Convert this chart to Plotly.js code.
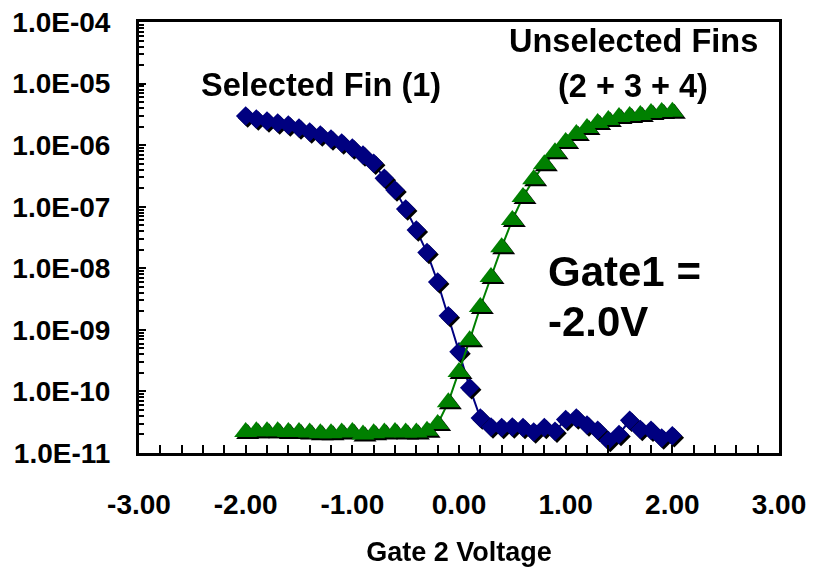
<!DOCTYPE html>
<html>
<head>
<meta charset="utf-8">
<script src="https://cdn.plot.ly/plotly-3.0.1.min.js"></script>
<style>
  html, body { margin: 0; padding: 0; background: #fff; }
  #chart { width: 814px; height: 571px; }
  /* Excel-like drop shadow under the markers */
  #chart .scatterlayer .points { filter: drop-shadow(2px 2px 0 #000); }
</style>
</head>
<body>
<div id="chart"></div>
<script>
// Gate 2 sweep, 0.1 V steps
const gate2Voltage = [
  -2.0, -1.9, -1.8, -1.7, -1.6, -1.5, -1.4, -1.3, -1.2, -1.1,
  -1.0, -0.9, -0.8, -0.7, -0.6, -0.5, -0.4, -0.3, -0.2, -0.1,
   0.0,  0.1,  0.2,  0.3,  0.4,  0.5,  0.6,  0.7,  0.8,  0.9,
   1.0,  1.1,  1.2,  1.3,  1.4,  1.5,  1.6,  1.7,  1.8,  1.9, 2.0
];

// Current through the selected fin (1)
const selectedFin = [
  2.97e-6, 2.66e-6, 2.47e-6, 2.29e-6, 2.12e-6, 1.90e-6, 1.64e-6, 1.46e-6, 1.26e-6, 1.08e-6,
  9.0e-7, 6.9e-7, 5.1e-7, 2.9e-7, 1.87e-7, 9.2e-8, 4.2e-8, 1.8e-8, 6.0e-9, 1.7e-9,
  4.4e-10, 1.15e-10, 3.7e-11, 2.65e-11, 2.6e-11, 2.65e-11, 2.6e-11, 2.2e-11, 2.6e-11, 2.25e-11,
  3.5e-11, 3.7e-11, 2.85e-11, 2.35e-11, 1.6e-11, 2.0e-11, 3.4e-11, 2.4e-11, 2.35e-11, 1.75e-11, 1.9e-11
];

// Current through the unselected fins (2 + 3 + 4)
const unselectedFins = [
  2.2e-11, 2.25e-11, 2.25e-11, 2.25e-11, 2.2e-11, 2.2e-11, 2.15e-11, 2.1e-11, 2.1e-11, 2.15e-11,
  2.2e-11, 2.0e-11, 2.1e-11, 2.15e-11, 2.2e-11, 2.15e-11, 2.15e-11, 2.3e-11, 2.96e-11, 6.7e-11,
  2.07e-10, 6.8e-10, 2.35e-9, 7.2e-9, 2.2e-8, 6.1e-8, 1.44e-7, 2.8e-7, 4.9e-7, 7.7e-7,
  1.12e-6, 1.52e-6, 1.9e-6, 2.29e-6, 2.56e-6, 2.86e-6, 2.97e-6, 3.09e-6, 3.33e-6, 3.45e-6, 3.5e-6
];

// Axis ticks
const yTickVals = [1e-11, 1e-10, 1e-9, 1e-8, 1e-7, 1e-6, 1e-5, 1e-4];
const yTickText = ["1.0E-11", "1.0E-10", "1.0E-09", "1.0E-08", "1.0E-07", "1.0E-06", "1.0E-05", "1.0E-04"];
const xTickVals = [-3, -2, -1, 0, 1, 2, 3];
const xTickText = ["-3.00", "-2.00", "-1.00", "0.00", "1.00", "2.00", "3.00"];

// minor log ticks 2..9 in every decade
const yMinorVals = [];
for (let e = -11; e < -4; e++) {
  for (let m = 2; m <= 9; m++) yMinorVals.push(m * Math.pow(10, e));
}

const FONT = "Liberation Sans, Arial, Helvetica, sans-serif";

const traces = [
  {
    x: gate2Voltage, y: selectedFin,
    type: "scatter", mode: "lines+markers",
    line: { color: "#000080", width: 2 },
    marker: { symbol: "diamond", size: 15, color: "#000080" },
    showlegend: false, hoverinfo: "x+y"
  },
  {
    x: gate2Voltage, y: unselectedFins,
    type: "scatter", mode: "lines+markers",
    line: { color: "#008000", width: 2 },
    marker: { symbol: "triangle-up", size: 20, color: "#008000" },
    showlegend: false, hoverinfo: "x+y"
  }
];

const layout = {
  width: 814, height: 571,
  margin: { l: 139, r: 35, t: 22, b: 118, pad: 0 },
  paper_bgcolor: "#ffffff", plot_bgcolor: "#ffffff",
  font: { family: FONT, color: "#000", size: 28, weight: "bold" },
  xaxis: {
    range: [-3, 3], autorange: false,
    tickmode: "array", tickvals: xTickVals, ticktext: xTickText,
    ticks: "inside", ticklen: 8, tickwidth: 2, tickcolor: "#000",
    minor: { dtick: 0.2, tick0: 0, ticks: "inside", ticklen: 8, tickwidth: 2, tickcolor: "#000", showgrid: false },
    showline: true, linecolor: "#000", linewidth: 3, mirror: true,
    showgrid: false, zeroline: false,
    tickfont: { family: FONT, size: 28, weight: "bold", color: "#000" },
    ticklabelstandoff: 24,
    title: { text: "Gate 2 Voltage", font: { family: FONT, size: 27, weight: "bold", color: "#000" }, standoff: 24 }
  },
  yaxis: {
    type: "log", range: [-11, -4], autorange: false,
    tickmode: "array", tickvals: yTickVals, ticktext: yTickText,
    ticks: "inside", ticklen: 7, tickwidth: 2, tickcolor: "#000",
    minor: { tickmode: "array", tickvals: yMinorVals, ticks: "inside", ticklen: 5, tickwidth: 2, tickcolor: "#000", showgrid: false },
    showline: true, linecolor: "#000", linewidth: 3, mirror: true,
    showgrid: false, zeroline: false,
    tickfont: { family: FONT, size: 28, weight: "bold", color: "#000" },
    ticklabelstandoff: 20
  },
  annotations: [
    { text: "Selected Fin (1)", xref: "paper", yref: "paper", x: 0.284, y: 0.854,
      xanchor: "center", yanchor: "middle", showarrow: false,
      font: { family: FONT, size: 32.5, weight: "bold", color: "#000" } },
    { text: "Unselected Fins", xref: "paper", yref: "paper", x: 0.7727, y: 0.956,
      xanchor: "center", yanchor: "middle", showarrow: false,
      font: { family: FONT, size: 32.5, weight: "bold", color: "#000" } },
    { text: "(2 + 3 + 4)", xref: "paper", yref: "paper", x: 0.772, y: 0.852,
      xanchor: "center", yanchor: "middle", showarrow: false,
      font: { family: FONT, size: 32.5, weight: "bold", color: "#000" } },
    { text: "Gate1 =", xref: "paper", yref: "paper", x: 0.636, y: 0.421,
      xanchor: "left", yanchor: "middle", showarrow: false,
      font: { family: FONT, size: 42, weight: "bold", color: "#000" } },
    { text: "-2.0V", xref: "paper", yref: "paper", x: 0.636, y: 0.305,
      xanchor: "left", yanchor: "middle", showarrow: false,
      font: { family: FONT, size: 42, weight: "bold", color: "#000" } }
  ]
};

Plotly.newPlot("chart", traces, layout, { staticPlot: true, displayModeBar: false });
</script>
</body>
</html>
